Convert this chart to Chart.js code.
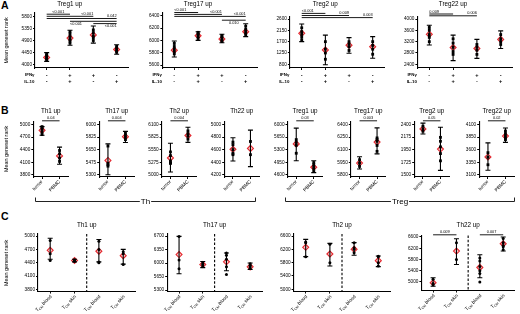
<!DOCTYPE html>
<html>
<head>
<meta charset="utf-8">
<script src="https://cdn.jsdelivr.net/npm/chart.js@4.4.1/dist/chart.umd.min.js"></script>
<style>
  body { margin: 0; width: 520px; height: 314px; position: relative; overflow: hidden; background: #fff;
         font-family: "Liberation Sans", Arial, sans-serif; color: #000; }
  canvas { position: absolute; }
  .letter { position: absolute; left: 1px; font-weight: bold; font-size: 10.5px; line-height: 1; }
</style>
</head>
<body>
<div class="letter" style="top:0px">A</div>
<div class="letter" style="top:105px">B</div>
<div class="letter" style="top:210.5px">C</div>
<canvas id="brackets" width="520" height="16" style="left:0;top:193px;width:520px;height:16px"></canvas>
<script>
const FONT = '"Liberation Sans", Arial, sans-serif';

// ---- A: stimulation conditions ----
const ifng = ["-", "+", "+", "-"];
const il10 = ["-", "+", "-", "+"];

const a1Ticks = [4000, 4450, 4900, 5350, 5800];
const a1Mean = [4260, 4990, 5110, 4560];
const a1Low = [4110, 4720, 4800, 4380];
const a1High = [4440, 5290, 5450, 4740];
const a1Pts = [[4150, 4200, 4250, 4300, 4350, 4400], [4800, 4880, 4950, 5050, 5150, 5230], [4900, 5000, 5080, 5200, 5300], [4450, 4500, 4560, 4620, 4680]];
const a1Sig = [[0, 1, "<0.001"], [0, 2, "<0.001"], [0, 3, "0.042"], [1, 3, "<0.001"], [2, 3, "<0.001"]];

const a2Ticks = [5600, 5800, 6000, 6200, 6400];
const a2Mean = [5840, 6075, 6020, 6140];
const a2Low = [5730, 6000, 5960, 6060];
const a2High = [5990, 6140, 6100, 6270];
const a2Pts = [[5780, 5820, 5860, 5900, 5950], [6030, 6060, 6090, 6110, 6130], [5980, 6000, 6030, 6060, 6080], [6090, 6120, 6150, 6180, 6230]];
const a2Sig = [[0, 1, "<0.001"], [0, 2, "<0.001"], [0, 3, "<0.001"], [2, 3, "0.010"]];

const a3Ticks = [800, 1250, 1700, 2150, 2600];
const a3Mean = [2030, 1370, 1560, 1500];
const a3Low = [1700, 780, 1240, 1040];
const a3High = [2400, 1960, 1860, 1900];
const a3Pts = [[1780, 1900, 2000, 2100, 2250], [1000, 1250, 1400, 1700], [1350, 1500, 1600, 1700], [1200, 1400, 1550, 1700]];
const a3Sig = [[0, 1, "<0.001"], [0, 2, "0.009"], [0, 3, "0.003"]];

const a4Ticks = [2400, 2800, 3200, 3600, 4000];
const a4Mean = [3460, 2990, 2960, 3280];
const a4Low = [3080, 2530, 2610, 2960];
const a4High = [3780, 3430, 3280, 3580];
const a4Pts = [[3200, 3350, 3450, 3600, 3700], [2750, 2850, 3000, 3150, 3300], [2750, 2900, 3000, 3100], [3100, 3200, 3300, 3450]];
const a4Sig = [[0, 1, "0.009"], [0, 2, "0.006"]];

// ---- B: tumor vs PBMC ----
const tissueCats = ["tumor", "PBMC"];

const b1Ticks = [3800, 4100, 4400, 4700, 5000];
const b1Mean = [4860, 4250];
const b1Low = [4745, 4050];
const b1High = [4950, 4460];
const b1Pts = [[4760, 4820, 4880, 4920, 4950], [4120, 4200, 4300, 4380]];
const b1Sig = [[0, 1, "0.04"]];

const b2Ticks = [5300, 5475, 5650, 5825, 6000];
const b2Mean = [5500, 5830];
const b2Low = [5300, 5750];
const b2High = [5730, 5905];
const b2Pts = [[5420, 5440, 5460, 5700], [5790, 5820, 5850, 5880]];
const b2Sig = [[0, 1, "0.004"]];

const b3Ticks = [5000, 5275, 5550, 5825, 6100];
const b3Mean = [5370, 5860];
const b3Low = [5060, 5710];
const b3High = [5690, 6040];
const b3Pts = [[5250, 5260, 5300, 5420, 5500], [5780, 5850, 5900, 5960]];
const b3Sig = [[0, 1, "0.004"]];

const b4Ticks = [4200, 4400, 4600, 4800, 5000];
const b4Mean = [4605, 4620];
const b4Low = [4420, 4330];
const b4High = [4790, 4910];
const b4Pts = [[4520, 4540, 4600, 4680, 4720], [4520, 4730]];
const b4Sig = [];

const b5Ticks = [4600, 4950, 5300, 5650, 6000];
const b5Mean = [5460, 4810];
const b5Low = [4990, 4660];
const b5High = [5900, 4990];
const b5Pts = [[5200, 5420, 5500, 5580], [4690, 4760, 4820, 4880, 4940]];
const b5Sig = [[0, 1, "0.03"]];

const b6Ticks = [5800, 5950, 6100, 6250, 6400];
const b6Mean = [5940, 6190];
const b6Low = [5870, 6050];
const b6High = [6015, 6360];
const b6Pts = [[5900, 5940, 5980], [6080, 6150, 6200, 6220, 6240]];
const b6Sig = [[0, 1, "0.003"]];

const b7Ticks = [1500, 1725, 1950, 2175, 2400];
const b7Mean = [2320, 1960];
const b7Low = [2230, 1580];
const b7High = [2425, 2350];
const b7Pts = [[2280, 2320, 2370], [1750, 1880, 2000, 2100, 2170]];
const b7Sig = [[0, 1, "0.05"]];

const b8Ticks = [3100, 3350, 3600, 3850, 4100];
const b8Mean = [3455, 3870];
const b8Low = [3190, 3745];
const b8High = [3735, 4030];
const b8Pts = [[3300, 3450, 3540], [3800, 3830, 3870, 3920, 3970]];
const b8Sig = [[0, 1, "0.02"]];

// groups spanned by the brackets under row B
const bGroups = ["Th", "Treg"];

// ---- C: TCM blood vs skin ----
const cCats = ["blood", "skin", "blood", "skin"];

const c1Ticks = [3800, 4100, 4400, 4700, 5000];
const c1Mean = [4680, 4450, 4660, 4560];
const c1Low = [4480, 4420, 4420, 4370];
const c1High = [4950, 4480, 4920, 4700];
const c1Pts = [[4450, 4600, 4900], [4430, 4450, 4470], [4400, 4420, 4700, 4880], [4360, 4600, 4650]];
const c1Sig = [];

const c2Ticks = [5300, 5650, 6000, 6350, 6700];
const c2Mean = [6220, 5960, 6030, 5900];
const c2Low = [5720, 5880, 5800, 5830];
const c2High = [6690, 6040, 6260, 6000];
const c2Pts = [[5850, 6080, 6690], [5920, 5960, 6000], [5700, 5900, 6100, 6200, 6260], [5860, 5900, 5940, 5980]];
const c2Sig = [];

const c3Ticks = [5000, 5400, 5800, 6200, 6600];
const c3Mean = [6260, 6060, 6200, 5860];
const c3Low = [5980, 5700, 6020, 5680];
const c3High = [6500, 6380, 6400, 6000];
const c3Pts = [[5980, 6400, 6420], [5800, 6350], [6100, 6200, 6250, 6400], [5700, 5800, 5980, 5990]];
const c3Sig = [];

const c4Ticks = [5000, 5400, 5800, 6200, 6600];
const c4Mean = [4970, 6100, 5520, 6360];
const c4Low = [4850, 5620, 5150, 6100];
const c4High = [5150, 6540, 5970, 6600];
const c4Pts = [[4900, 4950, 5100], [5800, 6400], [5000, 5300, 5400, 5550, 5750, 5850], [6150, 6250, 6300, 6400, 6550]];
const c4Sig = [[0, 1, "0.009"], [2, 3, "0.007"]];

// row layout: title position, canvas margins
const rows = {
    A: { titleY: 4.4, titleShift: -12, above: 17, below: 24, yTitleY: 40.5 },
    B: { titleY: 110.8, titleShift: 0, above: 14, below: 22, yTitleY: 149 },
    C: { titleY: 225, titleShift: 0, above: 14, below: 23, yTitleY: 263 }
};

// chart area [left, right, top, bottom] plus pixel rows of first/last tick
const bBox = c => [c - 17.5, c + 17.5, 121.5, 177, 124.5, 174.8];
const bSigAt = [[120.8, "a", "c"]];

const panels = [
    { row: "A", title: "Treg1 up", ticks: a1Ticks, mean: a1Mean, low: a1Low, high: a1High, pts: a1Pts, sig: a1Sig,
      box: [35, 128.3, 13, 68, 16.7, 64.3], yTitle: true,
      sigAt: [[14.2, "a", "c"], [16.3, "a", "r"], [18.5, "a", "r"], [21.3, "b", "l"], [23.6, "b", "r"]] },
    { row: "A", title: "Treg17 up", ticks: a2Ticks, mean: a2Mean, low: a2Low, high: a2High, pts: a2Pts, sig: a2Sig,
      box: [162.4, 257.6, 13, 68, 15.7, 65],
      sigAt: [[12.5, "a", "l"], [14.4, "a", "r"], [16.4, "a", "r"], [20.2, "b", "c"]] },
    { row: "A", title: "Treg2 up", ticks: a3Ticks, mean: a3Mean, low: a3Low, high: a3High, pts: a3Pts, sig: a3Sig,
      box: [289.9, 384.5, 17, 68, 19, 64.3],
      sigAt: [[13.4, "a", "l"], [15.5, "a", "r"], [17.6, "a", "r"]] },
    { row: "A", title: "Treg22 up", ticks: a4Ticks, mean: a4Mean, low: a4Low, high: a4High, pts: a4Pts, sig: a4Sig,
      box: [417.4, 512.6, 17, 68, 19, 64.3],
      sigAt: [[14, "a", "l"], [15.8, "a", "r"]] },

    { row: "B", title: "Th1 up", ticks: b1Ticks, mean: b1Mean, low: b1Low, high: b1High, pts: b1Pts, sig: b1Sig, box: bBox(50.8), sigAt: bSigAt, yTitle: true },
    { row: "B", title: "Th17 up", ticks: b2Ticks, mean: b2Mean, low: b2Low, high: b2High, pts: b2Pts, sig: b2Sig, box: bBox(116.7), sigAt: bSigAt },
    { row: "B", title: "Th2 up", ticks: b3Ticks, mean: b3Mean, low: b3Low, high: b3High, pts: b3Pts, sig: b3Sig, box: bBox(179.2), sigAt: bSigAt },
    { row: "B", title: "Th22 up", ticks: b4Ticks, mean: b4Mean, low: b4Low, high: b4High, pts: b4Pts, sig: b4Sig, box: bBox(241.7), sigAt: bSigAt },
    { row: "B", title: "Treg1 up", ticks: b5Ticks, mean: b5Mean, low: b5Low, high: b5High, pts: b5Pts, sig: b5Sig, box: bBox(305), sigAt: bSigAt },
    { row: "B", title: "Treg17 up", ticks: b6Ticks, mean: b6Mean, low: b6Low, high: b6High, pts: b6Pts, sig: b6Sig, box: bBox(368.3), sigAt: bSigAt },
    { row: "B", title: "Treg2 up", ticks: b7Ticks, mean: b7Mean, low: b7Low, high: b7High, pts: b7Pts, sig: b7Sig, box: bBox(431.7), sigAt: bSigAt },
    { row: "B", title: "Treg22 up", ticks: b8Ticks, mean: b8Mean, low: b8Low, high: b8High, pts: b8Pts, sig: b8Sig, box: bBox(496.7), sigAt: bSigAt },

    { row: "C", title: "Th1 up", ticks: c1Ticks, mean: c1Mean, low: c1Low, high: c1High, pts: c1Pts, sig: c1Sig,
      box: [38, 135.4, 234, 291.5, 236, 289.6], sigAt: [], yTitle: true },
    { row: "C", title: "Th17 up", ticks: c2Ticks, mean: c2Mean, low: c2Low, high: c2High, pts: c2Pts, sig: c2Sig,
      box: [167.2, 262, 234, 291.5, 236, 290], sigAt: [] },
    { row: "C", title: "Th2 up", ticks: c3Ticks, mean: c3Mean, low: c3Low, high: c3High, pts: c3Pts, sig: c3Sig,
      box: [293.6, 390.4, 234, 291.5, 236, 289.3], sigAt: [] },
    { row: "C", title: "Th22 up", ticks: c4Ticks, mean: c4Mean, low: c4Low, high: c4High, pts: c4Pts, sig: c4Sig,
      box: [421.4, 517, 235.5, 290.5, 237, 282], sigAt: [[234.8, "a", "c"], [234.8, "a", "c"]] }
];

// brackets grouping the Th and Treg panels of row B: [left, right, label centre]
const bracketSpan = [[35, 256, 145.5], [285, 515, 400]];
(function drawBrackets() {
    const ctx = document.getElementById("brackets").getContext("2d");
    const y0 = 193, ly = 201 - y0;
    ctx.strokeStyle = "#222";
    ctx.fillStyle = "#000";
    ctx.lineWidth = 1;
    ctx.font = "8px " + FONT;
    ctx.textAlign = "center";
    ctx.textBaseline = "middle";
    bracketSpan.forEach(([x1, x2, xc], i) => {
        const w = ctx.measureText(bGroups[i]).width + 2;
        ctx.beginPath();
        ctx.moveTo(x1 + 0.5, ly - 3.5); ctx.lineTo(x1 + 0.5, ly + 0.5); ctx.lineTo(xc - w / 2, ly + 0.5);
        ctx.moveTo(xc + w / 2, ly + 0.5); ctx.lineTo(x2 - 0.5, ly + 0.5); ctx.lineTo(x2 - 0.5, ly - 3.5);
        ctx.stroke();
        ctx.fillText(bGroups[i], xc, ly + 0.5);
    });
})();

// T with CM subscript, rotated like the tick labels
function drawTcmLabel(ctx, x, y, word) {
    ctx.save();
    ctx.translate(x, y);
    ctx.rotate(-Math.PI / 4);
    const big = "4.8px " + FONT, small = "3.3px " + FONT;
    ctx.font = big;
    const wT = ctx.measureText("T").width;
    const wW = ctx.measureText(" " + word).width;
    ctx.font = small;
    const wS = ctx.measureText("CM").width;
    let cx = -(wT + wS + wW);
    ctx.textAlign = "left";
    ctx.textBaseline = "middle";
    ctx.font = big; ctx.fillText("T", cx, 0); cx += wT;
    ctx.font = small; ctx.fillText("CM", cx, 1.4); cx += wS;
    ctx.font = big; ctx.fillText(" " + word, cx, 0);
    ctx.restore();
}

panels.forEach((p, idx) => {
    const [l, r, t, b, pTop, pBot] = p.box;
    const rc = rows[p.row];
    const cl = Math.max(0, Math.floor(l - 36));
    const ct = Math.max(0, Math.floor(t - rc.above));
    const cr = Math.min(520, Math.ceil(r + 6));
    const cb = Math.ceil(b + rc.below);
    const tMin = p.ticks[0], tMax = p.ticks[p.ticks.length - 1];
    const k = (pBot - pTop) / (tMax - tMin);
    const yMax = tMax + (pTop - t) / k;
    const yMin = tMin - (b - pBot) / k;

    const canvas = document.createElement("canvas");
    canvas.width = cr - cl;
    canvas.height = cb - ct;
    canvas.style.left = cl + "px";
    canvas.style.top = ct + "px";
    canvas.style.width = (cr - cl) + "px";
    canvas.style.height = (cb - ct) + "px";
    document.body.appendChild(canvas);

    const cats = p.row === "A" ? ifng : p.row === "B" ? tissueCats : cCats;
    const ptData = [];
    p.pts.forEach((arr, i) => arr.forEach(v => ptData.push({ x: i, y: v })));

    const decor = {
        id: "decor" + idx,
        afterDatasetDraw(chart, args) {
            if (args.index !== 0) return;
            const { ctx, scales: { x, y } } = chart;
            ctx.save();
            ctx.strokeStyle = "#000";
            ctx.lineWidth = 1.1;
            p.mean.forEach((m, i) => {
                const px = x.getPixelForValue(i);
                const y1 = y.getPixelForValue(p.low[i]);
                const y2 = y.getPixelForValue(p.high[i]);
                ctx.beginPath();
                ctx.moveTo(px, y1); ctx.lineTo(px, y2);
                ctx.moveTo(px - 2.5, y1); ctx.lineTo(px + 2.5, y1);
                ctx.moveTo(px - 2.5, y2); ctx.lineTo(px + 2.5, y2);
                ctx.stroke();
            });
            ctx.restore();
        },
        afterDraw(chart) {
            const { ctx, chartArea: a, scales: { x } } = chart;
            ctx.save();
            ctx.fillStyle = "#000";
            ctx.strokeStyle = "#000";

            // panel title
            ctx.font = "6.3px " + FONT;
            ctx.textAlign = "center";
            ctx.textBaseline = "middle";
            ctx.fillText(p.title, (a.left + a.right) / 2 + rc.titleShift, rc.titleY - ct);

            // significance bars
            p.sig.forEach(([i, j, txt], s) => {
                const [sy, side, al] = p.sigAt[s];
                const x1 = x.getPixelForValue(i), x2 = x.getPixelForValue(j), yy = sy - ct;
                ctx.lineWidth = 0.9;
                ctx.beginPath(); ctx.moveTo(x1, yy); ctx.lineTo(x2, yy); ctx.stroke();
                ctx.font = "3.9px " + FONT;
                ctx.textAlign = al === "l" ? "left" : al === "r" ? "right" : "center";
                ctx.textBaseline = side === "a" ? "bottom" : "top";
                const tx = al === "l" ? x1 : al === "r" ? x2 : (x1 + x2) / 2;
                ctx.fillText(txt, tx, side === "a" ? yy - 0.5 : yy + 0.6);
            });

            if (p.row === "A") {
                ctx.font = "bold 4.4px " + FONT;
                ctx.textAlign = "right";
                ctx.textBaseline = "middle";
                ctx.fillText("IFNγ", a.left - 0.5, 75 - ct);
                ctx.fillText("IL-10", a.left - 0.5, 81.7 - ct);
                ctx.font = "bold 5.6px " + FONT;
                ctx.textAlign = "center";
                ifng.forEach((s, i) => ctx.fillText(s, x.getPixelForValue(i), 75 - ct));
                il10.forEach((s, i) => ctx.fillText(s, x.getPixelForValue(i), 81.7 - ct));
            }

            if (p.row === "C") {
                // dashed separator between the two cell groups
                const dx = (x.getPixelForValue(1) + x.getPixelForValue(2)) / 2;
                ctx.lineWidth = 1.1;
                ctx.setLineDash([2.5, 1.8]);
                ctx.beginPath(); ctx.moveTo(dx, a.top); ctx.lineTo(dx, a.bottom); ctx.stroke();
                ctx.setLineDash([]);
                cCats.forEach((w, i) => drawTcmLabel(ctx, x.getPixelForValue(i) + 1, a.bottom + 4.5, w));
            }

            if (p.yTitle) {
                ctx.translate(6.5 - cl, rc.yTitleY - ct);
                ctx.rotate(-Math.PI / 2);
                ctx.font = "5.4px " + FONT;
                ctx.textAlign = "center";
                ctx.textBaseline = "middle";
                ctx.fillText("Mean geneset rank", 0, 0);
            }
            ctx.restore();
        }
    };

    new Chart(canvas, {
        type: "scatter",
        data: {
            datasets: [
                { data: ptData, pointStyle: p.row === "C" ? "circle" : "rect", pointRadius: p.row === "C" ? 1.5 : 2,
                  backgroundColor: "#000", borderWidth: 0, clip: false },
                { data: p.mean.map((v, i) => ({ x: i, y: v })), pointStyle: "rectRot", pointRadius: 3,
                  backgroundColor: "rgba(255,140,140,0.45)", borderColor: "#e3262d", borderWidth: 1.1, clip: false }
            ]
        },
        options: {
            responsive: false,
            animation: false,
            devicePixelRatio: 1,
            events: [],
            layout: { padding: { top: t - ct, right: cr - r, left: 0, bottom: 0 } },
            plugins: { legend: { display: false }, tooltip: { enabled: false }, title: { display: false } },
            scales: {
                x: {
                    type: "linear",
                    min: -0.5,
                    max: cats.length - 0.5,
                    afterBuildTicks: s => { s.ticks = cats.map((c, i) => ({ value: i })); },
                    ticks: {
                        display: p.row === "B",
                        autoSkip: false,
                        minRotation: 45,
                        maxRotation: 45,
                        padding: 0,
                        color: "#000",
                        font: { family: FONT, size: 4.8 },
                        callback: v => tissueCats[v]
                    },
                    grid: { drawOnChartArea: false, drawTicks: true, tickLength: 2, color: "#000", lineWidth: 1 },
                    border: { color: "#000", width: 1.1 },
                    afterFit: s => { s.height = cb - b; }
                },
                y: {
                    type: "linear",
                    min: yMin,
                    max: yMax,
                    afterBuildTicks: s => { s.ticks = p.ticks.map(v => ({ value: v })); },
                    ticks: {
                        autoSkip: false,
                        padding: 1,
                        color: "#000",
                        font: { family: FONT, size: 4.7 },
                        callback: v => String(v)
                    },
                    grid: { drawOnChartArea: false, drawTicks: true, tickLength: 2, color: "#000", lineWidth: 1 },
                    border: { color: "#000", width: 1.1 },
                    afterFit: s => { s.width = l - cl; }
                }
            }
        },
        plugins: [decor]
    });
});
</script>
</body>
</html>
